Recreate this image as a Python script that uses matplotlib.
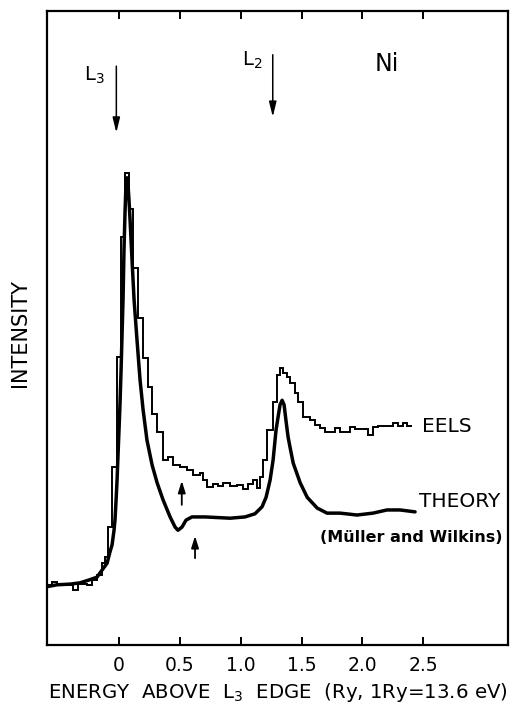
import matplotlib
matplotlib.use("Agg")
import matplotlib.pyplot as plt
import numpy as np

# ---- data (energy in Ry above L3 edge, intensity in arbitrary units) ----
eels_edges = [-0.593, -0.551, -0.510, -0.379, -0.338, -0.264, -0.223, -0.182, -0.141, -0.116,
              -0.091, -0.058, -0.017, 0.016, 0.049, 0.081, 0.114, 0.155, 0.197, 0.238,
              0.270, 0.312, 0.361, 0.402, 0.443, 0.501, 0.558, 0.608, 0.665, 0.690,
              0.723, 0.772, 0.813, 0.854, 0.912, 0.970, 1.019, 1.060, 1.101, 1.134,
              1.159, 1.185, 1.217, 1.266, 1.299, 1.323, 1.348, 1.381, 1.406, 1.447,
              1.470, 1.512, 1.569, 1.610, 1.651, 1.692, 1.775, 1.816, 1.898, 1.939,
              2.046, 2.087, 2.128, 2.251, 2.293, 2.334, 2.367, 2.408]
eels_counts = [9.5, 9.9, 9.5, 8.7, 9.6, 9.5, 10.3, 11.0, 12.9, 13.9,
               18.6, 28.1, 45.4, 64.4, 74.5, 68.8, 59.5, 51.6, 45.3, 40.7,
               36.4, 33.6, 29.2, 29.7, 28.4, 28.1, 27.6, 26.8, 27.1, 26.0,
               24.9, 25.4, 25.1, 25.6, 25.1, 25.2, 24.6, 25.4, 26.0, 24.8,
               26.5, 29.2, 33.9, 38.3, 42.6, 43.7, 42.9, 42.3, 41.3, 39.8,
               38.3, 36.0, 35.5, 34.7, 34.2, 33.6, 34.2, 33.6, 34.4, 34.1,
               33.1, 34.4, 34.5, 35.0, 34.5, 35.0, 34.5]

theory_energy = [-0.593, -0.510, -0.404, -0.322, -0.240, -0.182, -0.141, -0.099, -0.075, -0.058,
                 -0.042, -0.034, -0.025, -0.017, -0.009, -0.001, 0.007, 0.016, 0.024, 0.032,
                 0.040, 0.049, 0.057, 0.065, 0.073, 0.081, 0.090, 0.106, 0.123, 0.147,
                 0.172, 0.197, 0.229, 0.271, 0.312, 0.361, 0.419, 0.460, 0.484, 0.517,
                 0.550, 0.599, 0.706, 0.912, 1.035, 1.117, 1.175, 1.208, 1.241, 1.266,
                 1.290, 1.307, 1.323, 1.340, 1.356, 1.373, 1.389, 1.406, 1.431, 1.488,
                 1.546, 1.628, 1.709, 1.816, 1.956, 2.087, 2.202, 2.309, 2.433]
theory_intensity = [9.2, 9.5, 9.6, 9.8, 10.3, 10.7, 11.8, 12.9, 14.7, 15.8,
                    18.1, 19.7, 22.9, 26.0, 30.0, 33.9, 37.9, 43.4, 48.9, 54.4,
                    62.3, 68.6, 73.0, 73.7, 72.6, 70.2, 67.0, 60.7, 54.4, 48.1,
                    41.8, 37.1, 32.3, 28.4, 25.6, 22.9, 20.2, 18.6, 18.1, 18.6,
                    19.7, 20.2, 20.2, 20.0, 20.2, 20.7, 21.8, 23.3, 26.0, 29.2,
                    33.9, 36.0, 37.9, 38.6, 37.9, 35.2, 32.8, 31.1, 28.7, 25.6,
                    23.3, 21.6, 20.8, 20.8, 20.5, 20.8, 21.3, 21.3, 21.0]

x_ticks = [0, 0.5, 1.0, 1.5, 2.0, 2.5]
x_tick_labels = ["0", "0.5", "1.0", "1.5", "2.0", "2.5"]

plt.rcParams['font.family'] = ['DejaVu Sans']

fig = plt.figure(figsize=(5.16, 7.08), dpi=100)
ax = fig.add_axes([47/516, 1 - 645/708, 461/516, 634/708])

ax.stairs(eels_counts, eels_edges, color='black', lw=1.4, baseline=None)
ax.plot(theory_energy, theory_intensity, color='black', lw=2.5,
        solid_joinstyle='round', solid_capstyle='round')

ax.set_xlim(-0.593, 3.197)
ax.set_ylim(0, 100)
ax.set_yticks([])
ax.set_xticks(x_ticks)
ax.set_xticklabels(x_tick_labels)
ax.tick_params(axis='x', direction='in', length=6, width=1.4, top=True,
               labelsize=13.5, pad=8)
for s in ax.spines.values():
    s.set_linewidth(1.6)

ax.set_xlabel("ENERGY  ABOVE  L$_3$  EDGE  (Ry, 1Ry=13.6 eV)", fontsize=14.2, labelpad=4)
fig.text(20/516, 1 - 333/708, "INTENSITY", rotation=90, ha='center', va='center',
         fontsize=15)

# arrows marking the edges
arrow_kw = dict(arrowstyle='-|>,head_length=0.9,head_width=0.22', color='black', lw=1.1,
                shrinkA=0, shrinkB=0)
ax.annotate('', xy=(-0.023, 80.8), xytext=(-0.023, 91.3), arrowprops=arrow_kw)
ax.annotate('', xy=(1.263, 83.3), xytext=(1.263, 93.1), arrowprops=arrow_kw)
small_kw = dict(arrowstyle='-|>,head_length=0.7,head_width=0.22', color='black', lw=1.3,
                shrinkA=0, shrinkB=0)
ax.annotate('', xy=(0.515, 25.9), xytext=(0.515, 22.1), arrowprops=small_kw)
ax.annotate('', xy=(0.624, 17.2), xytext=(0.624, 13.7), arrowprops=small_kw)

ax.text(-0.285, 89.0, "L$_3$", fontsize=14, ha='left', va='baseline')
ax.text(1.010, 91.3, "L$_2$", fontsize=14, ha='left', va='baseline')
ax.text(2.10, 90.6, "Ni", fontsize=17, ha='left', va='baseline')

ax.text(2.49, 34.4, "EELS", fontsize=14.5, ha='left', va='center')
ax.text(2.465, 22.6, "THEORY", fontsize=14.5, ha='left', va='center')
ax.text(2.404, 16.9, "(Müller and Wilkins)", fontsize=11.5, ha='center', va='center',
        fontweight='bold')

fig.savefig("out.png", dpi=100)
